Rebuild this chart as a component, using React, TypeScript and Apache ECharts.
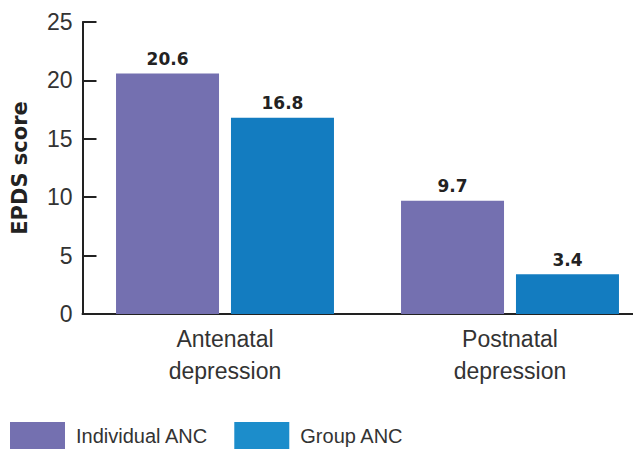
import React, { useEffect, useRef } from "react";
import * as echarts from "echarts";

const categories = ["Antenatal\ndepression", "Postnatal\ndepression"];
const individualANC = [20.6, 9.7];
const groupANC = [16.8, 3.4];
const seriesNames = ["Individual ANC", "Group ANC"];

export default function App() {
  const ref = useRef<HTMLDivElement>(null);
  useEffect(() => {
    const chart = echarts.init(ref.current!, null, { renderer: "svg" });
    const font = "'Liberation Sans', 'Helvetica Neue', Arial, sans-serif";
    const bold = "'DejaVu Sans', Arial, sans-serif";
    chart.setOption({
      animation: false,
      textStyle: { fontFamily: font },
      grid: { left: 82.5, width: 570, top: 22, bottom: 135, containLabel: false, outerBoundsMode: "none" },
      legend: {
        left: 10,
        top: 422,
        padding: 0,
        itemWidth: 55,
        itemHeight: 27,
        itemGap: 26,
        icon: "rect",
        textStyle: { fontSize: 20, color: "#333", fontFamily: font, padding: [0, 0, 0, 6] },
        data: [
          { name: seriesNames[0], itemStyle: { color: "#7470B0" } },
          { name: seriesNames[1], itemStyle: { color: "#1C8DCB" } },
        ],
      },
      xAxis: {
        type: "category",
        data: categories,
        axisLine: { lineStyle: { color: "#222", width: 2 } },
        axisTick: { inside: true, length: 7, lineStyle: { color: "#222", width: 2 } },
        axisLabel: { fontSize: 23, color: "#333", lineHeight: 32, margin: 9, fontFamily: font },
      },
      yAxis: {
        type: "value",
        min: 0,
        max: 25,
        interval: 5,
        name: "EPDS score",
        nameLocation: "middle",
        nameGap: 52,
        nameTextStyle: { fontSize: 21, fontWeight: "bold", color: "#222", fontFamily: bold },
        axisLine: { show: true, lineStyle: { color: "#222", width: 2 } },
        axisTick: { show: true, inside: true, length: 14, lineStyle: { color: "#222", width: 2 } },
        axisLabel: { fontSize: 23, color: "#333", margin: 10, fontFamily: font },
        splitLine: { show: false },
      },
      series: [
        {
          name: seriesNames[0],
          type: "bar",
          data: individualANC,
          barWidth: 103,
          barGap: "11.6%",
          itemStyle: { color: "#7470B0" },
          label: { show: true, position: "top", fontSize: 17, fontWeight: "bold", color: "#222", distance: 6, fontFamily: bold },
        },
        {
          name: seriesNames[1],
          type: "bar",
          data: groupANC,
          barWidth: 103,
          barGap: "11.6%",
          itemStyle: { color: "#137CC0" },
          label: { show: true, position: "top", fontSize: 17, fontWeight: "bold", color: "#222", distance: 6, fontFamily: bold },
        },
      ],
    });
    return () => chart.dispose();
  }, []);
  return <div ref={ref} style={{ width: 633, height: 449, position: "absolute", left: 0, top: 0 }} />;
}
